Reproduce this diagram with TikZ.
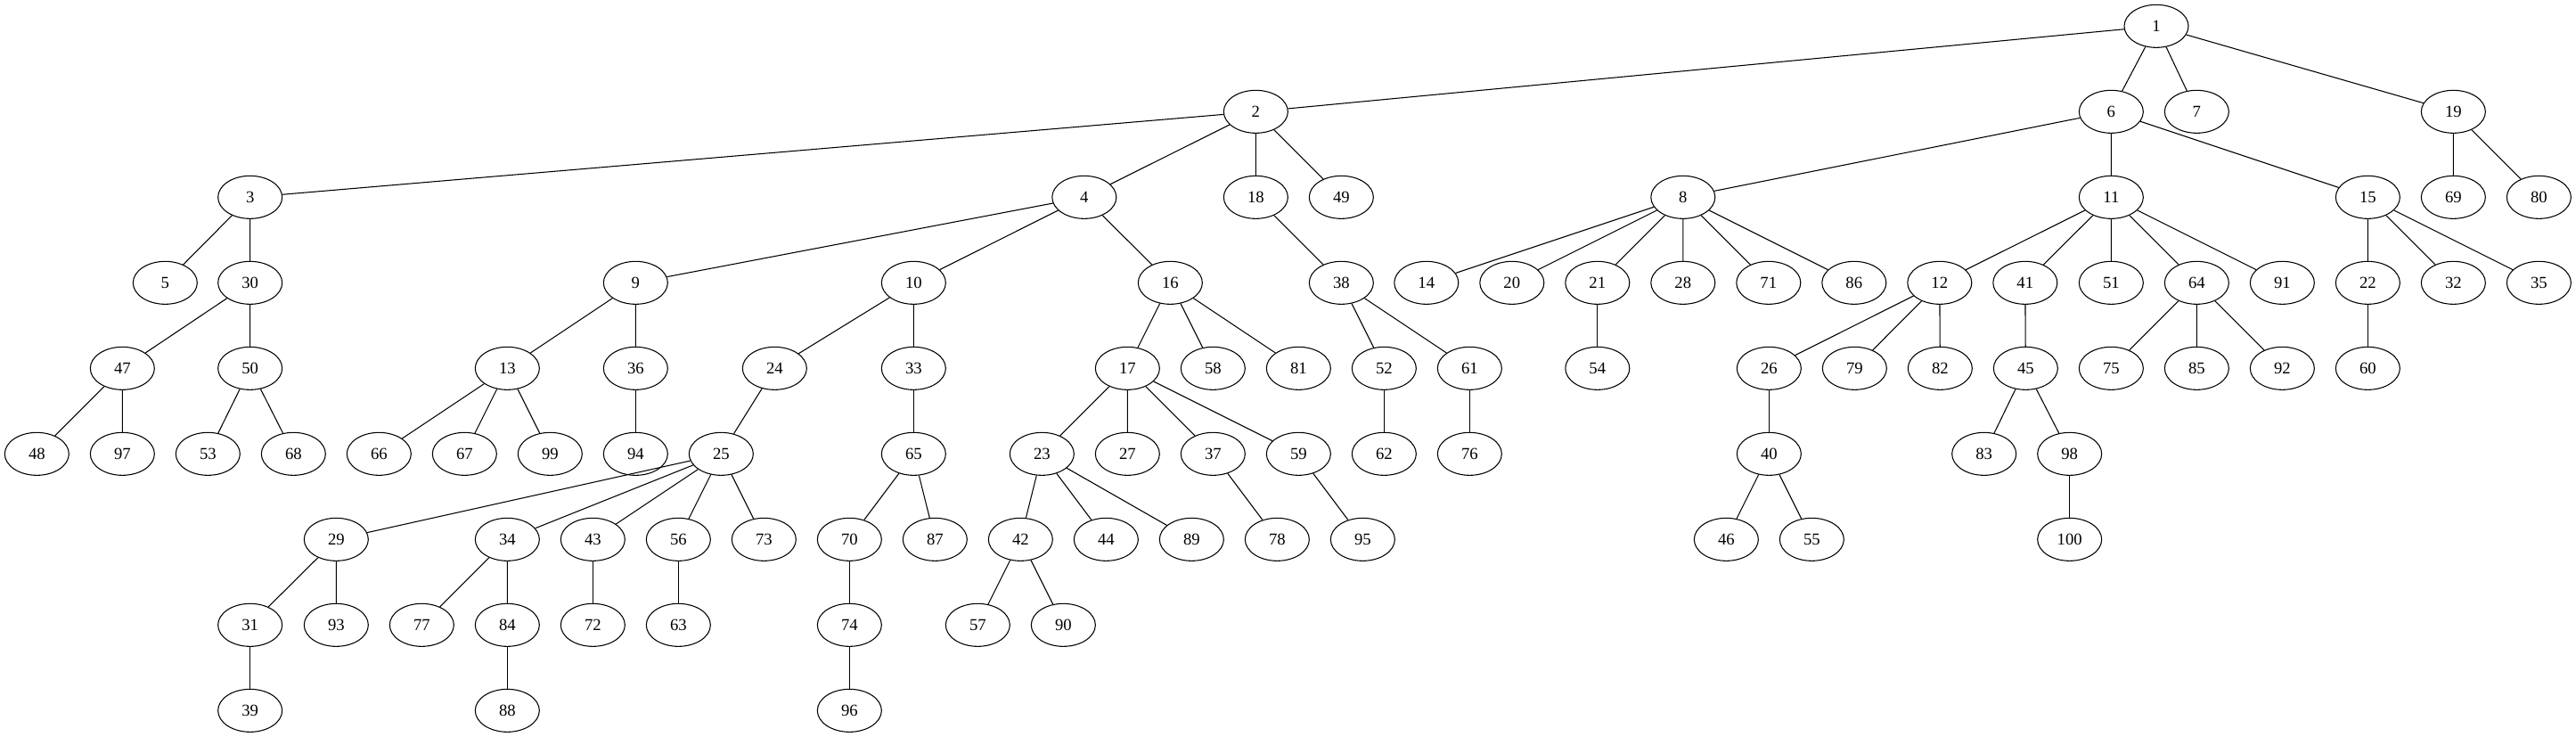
\documentclass[tikz,border=0pt]{standalone}
\usepackage{fontspec}
\setmainfont{Liberation Serif}
\usetikzlibrary{shapes.geometric}

\tikzset{vertex/.style={draw, ellipse, line width=0.8pt, minimum width=54pt, minimum height=36pt, inner sep=0pt, font=\fontsize{14pt}{14pt}\selectfont}}

\begin{document}
\begin{tikzpicture}[x=1pt,y=-1pt,line width=0.8pt]

\useasboundingbox (0,0) rectangle (2168.25,620.25);

% rank 0 and 1
\node[vertex] (n1) at (1815,22) {1};
\node[vertex] (n2) at (1057,94) {2};
\node[vertex] (n6) at (1777,94) {6};
\node[vertex] (n7) at (1849,94) {7};
\node[vertex] (n19) at (2065,94) {19};

% rank 2
\node[vertex] (n3) at (210.5,166) {3};
\node[vertex] (n4) at (912.6,166) {4};
\node[vertex] (n18) at (1057,166) {18};
\node[vertex] (n49) at (1129,166) {49};
\node[vertex] (n8) at (1416.6,166) {8};
\node[vertex] (n11) at (1777,166) {11};
\node[vertex] (n15) at (1993,166) {15};
\node[vertex] (n69) at (2065,166) {69};
\node[vertex] (n80) at (2137,166) {80};

% rank 3
\node[vertex] (n5) at (139,238) {5};
\node[vertex] (n30) at (210.5,238) {30};
\node[vertex] (n9) at (535,238) {9};
\node[vertex] (n10) at (769,238) {10};
\node[vertex] (n16) at (985,238) {16};
\node[vertex] (n38) at (1129,238) {38};
\node[vertex] (n14) at (1200.6,238) {14};
\node[vertex] (n20) at (1272.6,238) {20};
\node[vertex] (n21) at (1344.6,238) {21};
\node[vertex] (n28) at (1416.6,238) {28};
\node[vertex] (n71) at (1488.6,238) {71};
\node[vertex] (n86) at (1560.6,238) {86};
\node[vertex] (n12) at (1632.6,238) {12};
\node[vertex] (n41) at (1704.6,238) {41};
\node[vertex] (n51) at (1777,238) {51};
\node[vertex] (n64) at (1849,238) {64};
\node[vertex] (n91) at (1921,238) {91};
\node[vertex] (n22) at (1993,238) {22};
\node[vertex] (n32) at (2065,238) {32};
\node[vertex] (n35) at (2137,238) {35};

% rank 4
\node[vertex] (n47) at (103,310) {47};
\node[vertex] (n50) at (210.5,310) {50};
\node[vertex] (n13) at (427,310) {13};
\node[vertex] (n36) at (535,310) {36};
\node[vertex] (n24) at (652,310) {24};
\node[vertex] (n33) at (769,310) {33};
\node[vertex] (n17) at (949,310) {17};
\node[vertex] (n58) at (1021,310) {58};
\node[vertex] (n81) at (1093,310) {81};
\node[vertex] (n52) at (1165,310) {52};
\node[vertex] (n61) at (1237,310) {61};
\node[vertex] (n54) at (1344.6,310) {54};
\node[vertex] (n26) at (1489,310) {26};
\node[vertex] (n79) at (1561,310) {79};
\node[vertex] (n82) at (1633,310) {82};
\node[vertex] (n45) at (1705,310) {45};
\node[vertex] (n75) at (1777,310) {75};
\node[vertex] (n85) at (1849,310) {85};
\node[vertex] (n92) at (1921,310) {92};
\node[vertex] (n60) at (1993,310) {60};

% rank 5
\node[vertex] (n48) at (31,382) {48};
\node[vertex] (n97) at (103,382) {97};
\node[vertex] (n53) at (175,382) {53};
\node[vertex] (n68) at (247,382) {68};
\node[vertex] (n66) at (319,382) {66};
\node[vertex] (n67) at (391,382) {67};
\node[vertex] (n99) at (463,382) {99};
\node[vertex] (n94) at (535,382) {94};
\node[vertex] (n25) at (607,382) {25};
\node[vertex] (n65) at (769,382) {65};
\node[vertex] (n23) at (877,382) {23};
\node[vertex] (n27) at (949,382) {27};
\node[vertex] (n37) at (1021,382) {37};
\node[vertex] (n59) at (1093,382) {59};
\node[vertex] (n62) at (1165,382) {62};
\node[vertex] (n76) at (1237,382) {76};
\node[vertex] (n40) at (1489,382) {40};
\node[vertex] (n83) at (1670,382) {83};
\node[vertex] (n98) at (1742,382) {98};

% rank 6
\node[vertex] (n29) at (283,454) {29};
\node[vertex] (n34) at (427,454) {34};
\node[vertex] (n43) at (499,454) {43};
\node[vertex] (n56) at (571,454) {56};
\node[vertex] (n73) at (643,454) {73};
\node[vertex] (n70) at (715,454) {70};
\node[vertex] (n87) at (787,454) {87};
\node[vertex] (n42) at (859,454) {42};
\node[vertex] (n44) at (931,454) {44};
\node[vertex] (n89) at (1003,454) {89};
\node[vertex] (n78) at (1075,454) {78};
\node[vertex] (n95) at (1147,454) {95};
\node[vertex] (n46) at (1453,454) {46};
\node[vertex] (n55) at (1525,454) {55};
\node[vertex] (n100) at (1742,454) {100};

% rank 7 and 8
\node[vertex] (n31) at (210.5,526) {31};
\node[vertex] (n93) at (283,526) {93};
\node[vertex] (n77) at (355,526) {77};
\node[vertex] (n84) at (427,526) {84};
\node[vertex] (n72) at (499,526) {72};
\node[vertex] (n63) at (571,526) {63};
\node[vertex] (n74) at (715,526) {74};
\node[vertex] (n57) at (823,526) {57};
\node[vertex] (n90) at (895,526) {90};
\node[vertex] (n39) at (210.5,598) {39};
\node[vertex] (n88) at (427,598) {88};
\node[vertex] (n96) at (715,598) {96};

% edges
\draw (n1) -- (n2) (n1) -- (n6) (n1) -- (n7) (n1) -- (n19);
\draw (n2) -- (n3) (n2) -- (n4) (n2) -- (n18) (n2) -- (n49);
\draw (n6) -- (n8) (n6) -- (n11) (n6) -- (n15);
\draw (n19) -- (n69) (n19) -- (n80);
\draw (n3) -- (n5) (n3) -- (n30);
\draw (n4) -- (n9) (n4) -- (n10) (n4) -- (n16);
\draw (n18) -- (n38);
\draw (n8) -- (n14) (n8) -- (n20) (n8) -- (n21) (n8) -- (n28) (n8) -- (n71) (n8) -- (n86);
\draw (n11) -- (n12) (n11) -- (n41) (n11) -- (n51) (n11) -- (n64) (n11) -- (n91);
\draw (n15) -- (n22) (n15) -- (n32) (n15) -- (n35);
\draw (n30) -- (n47) (n30) -- (n50);
\draw (n9) -- (n13) (n9) -- (n36);
\draw (n10) -- (n24) (n10) -- (n33);
\draw (n16) -- (n17) (n16) -- (n58) (n16) -- (n81);
\draw (n38) -- (n52) (n38) -- (n61);
\draw (n21) -- (n54);
\draw (n12) -- (n26) (n12) -- (n79) (n12) -- (n82);
\draw (n41) -- (n45);
\draw (n64) -- (n75) (n64) -- (n85) (n64) -- (n92);
\draw (n22) -- (n60);
\draw (n47) -- (n48) (n47) -- (n97);
\draw (n50) -- (n53) (n50) -- (n68);
\draw (n13) -- (n66) (n13) -- (n67) (n13) -- (n99);
\draw (n36) -- (n94);
\draw (n24) -- (n25);
\draw (n33) -- (n65);
\draw (n17) -- (n23) (n17) -- (n27) (n17) -- (n37) (n17) -- (n59);
\draw (n52) -- (n62);
\draw (n61) -- (n76);
\draw (n26) -- (n40);
\draw (n45) -- (n83) (n45) -- (n98);
\draw (n25) -- (n29) (n25) -- (n34) (n25) -- (n43) (n25) -- (n56) (n25) -- (n73);
\draw (n65) -- (n70) (n65) -- (n87);
\draw (n23) -- (n42) (n23) -- (n44) (n23) -- (n89);
\draw (n37) -- (n78);
\draw (n59) -- (n95);
\draw (n40) -- (n46) (n40) -- (n55);
\draw (n98) -- (n100);
\draw (n29) -- (n31) (n29) -- (n93);
\draw (n34) -- (n77) (n34) -- (n84);
\draw (n43) -- (n72);
\draw (n56) -- (n63);
\draw (n70) -- (n74);
\draw (n42) -- (n57) (n42) -- (n90);
\draw (n31) -- (n39);
\draw (n84) -- (n88);
\draw (n74) -- (n96);

\end{tikzpicture}
\end{document}
